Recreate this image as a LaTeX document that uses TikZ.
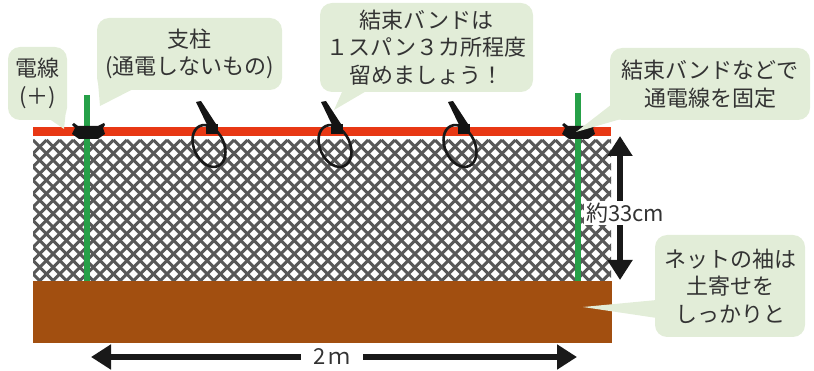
\documentclass[tikz,border=0pt]{standalone}
\usepackage{fontspec}
\setmainfont{Noto Sans CJK JP}
\usetikzlibrary{arrows.meta,calc}

\definecolor{calloutbg}{RGB}{226,237,216}
\definecolor{soil}{RGB}{162,79,16}
\definecolor{wirered}{RGB}{232,56,20}
\definecolor{postgreen}{RGB}{38,160,72}
\definecolor{meshgray}{RGB}{88,88,88}
\definecolor{ink}{RGB}{51,51,51}

\tikzset{
  callout/.style={fill=calloutbg, rounded corners=12pt, align=center, text=ink,
    font=\fontsize{22}{27.5}\selectfont, inner sep=0pt},
  pointer/.style={fill=calloutbg},
  meshline/.style={draw=meshgray, line width=3pt},
  postbar/.style={fill=postgreen},
  tieband/.style={draw=black!90, line width=2.6pt},
  dimarrow/.style={line width=6pt, draw=black!90,
    {Triangle[length=20pt,width=24pt]}-{Triangle[length=20pt,width=24pt]}},
  dimlabel/.style={fill=white, text=ink, font=\fontsize{22}{26}\selectfont, inner sep=2pt},
  insulator/.pic={
    \fill[black!92] (-14,-8) -- (-10,-5) -- (10,-5) -- (16,-8) -- (17,-6) -- (15,-3)
      -- (17,3) -- (10,8) -- (-9,8) -- (-16,3) -- (-13,-3) -- (-16,-6) -- cycle;
  },
}

\begin{document}
\begin{tikzpicture}[x=1pt,y=-1pt]
\useasboundingbox (0,0) rectangle (814,371);

% chain-link mesh
\begin{scope}
  \clip (33,139) rectangle (611,281);
  \foreach \i in {-13,...,58} {
    \draw[meshline] (33+\i*13.4,140) -- ++(160,160);
    \draw[meshline] (33+\i*13.4,140) -- ++(-160,160);
  }
\end{scope}

% soil
\fill[soil] (33,281) rectangle (612,343);

% posts
\fill[postbar] (84,95) rectangle (90,281);
\fill[postbar] (575,93) rectangle (581,281);

% live wire
\fill[wirered] (33,127) rectangle (611,136);

% insulators holding the wire on the posts
\pic at (88,131) {insulator};
\pic at (578,131) {insulator};

% cable ties on the wire
\foreach \cx/\tx in {209/197, 335/322, 460/449} {
  \draw[tieband, rotate around={25:(\cx,146)}] (\cx,146) ellipse [x radius=15pt, y radius=22pt];
  \fill[black!92] (\tx-1,102) -- (\tx+4,101) -- (\tx+19,124) -- (\tx+13,131) -- cycle;
  \fill[black!92] (\tx+9,124) rectangle (\tx+21,134);
}

% height dimension
\coordinate (htop) at (620,136);
\coordinate (hbot) at (620,280);
\draw[dimarrow] (htop) -- (hbot);
\node[dimlabel] (hlabel) at (625,213) {約33cm};

% width dimension
\coordinate (wleft) at (91,357);
\coordinate (wright) at (577,357);
\draw[dimarrow] (wleft) -- (wright);
\node[dimlabel, minimum width=62pt] (wlabel) at (332,357) {2\,ｍ};

% callouts
\coordinate (t1) at (64,129);
\coordinate (t2) at (100,106);
\coordinate (t3) at (334,110);
\coordinate (t4) at (576,132);
\coordinate (t5) at (583,307);

\node[callout, minimum width=59pt, minimum height=73pt] (c1) at (37.5,83.5) {電線\\(＋)};
\fill[pointer] ($(c1.south east)+(-19,-2)$) -- (t1) -- ($(c1.south east)+(-1,-12)$) -- cycle;

\node[callout, minimum width=185pt, minimum height=72pt] (c2) at (189.5,54) {支柱\\(通電しないもの)};
\fill[pointer] ($(c2.south west)+(1,-10)$) -- (t2) -- ($(c2.south west)+(38,-2)$) -- cycle;

\node[callout, minimum width=213pt, minimum height=89pt] (c3) at (426.5,47.5) {結束バンドは\\１スパン３カ所程度\\留めましょう！};
\fill[pointer] ($(c3.south west)+(23,-2)$) -- (t3) -- ($(c3.south west)+(48,-2)$) -- cycle;

\node[callout, minimum width=200pt, minimum height=72pt] (c4) at (710,84) {結束バンドなどで\\通電線を固定};
\fill[pointer] ($(c4.south west)+(2,-16)$) -- (t4) -- ($(c4.south west)+(14,-2)$) -- cycle;

\node[callout, minimum width=150pt, minimum height=102pt] (c5) at (730,286) {ネットの袖は\\土寄せを\\しっかりと};
\fill[pointer] ($(c5.west)+(2,14)$) -- (t5) -- ($(c5.west)+(2,32)$) -- cycle;

\end{tikzpicture}
\end{document}
